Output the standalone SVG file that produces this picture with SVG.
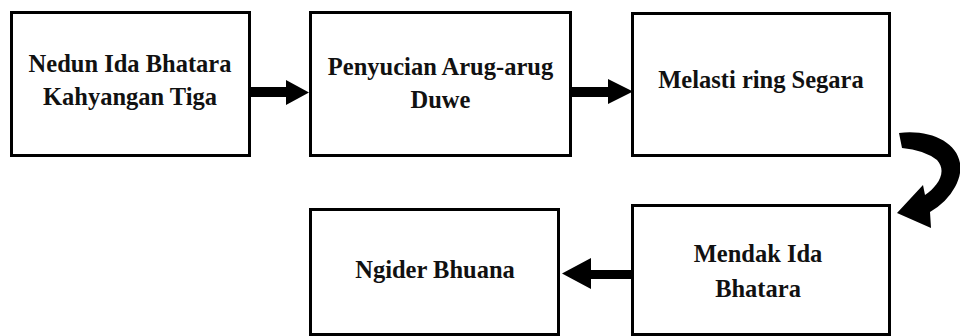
<svg xmlns="http://www.w3.org/2000/svg" width="960" height="336" viewBox="0 0 960 336">
<style>
.box{fill:#fff;stroke:#000;stroke-width:3}
text{font-family:'Liberation Serif','Times New Roman',serif;font-weight:700;font-size:24.5px;fill:#111;text-anchor:middle}
.ar{fill:#000}
</style>
<rect width="960" height="336" fill="#fff"/>
<g id="n1"><rect class="box" x="11.5" y="12.5" width="238" height="143"/><text x="130" y="72">Nedun Ida Bhatara</text><text x="130" y="105">Kahyangan Tiga</text></g>
<g id="n2"><rect class="box" x="310.5" y="12.5" width="260" height="143"/><text x="440.5" y="75">Penyucian Arug-arug</text><text x="440.5" y="108">Duwe</text></g>
<g id="n3"><rect class="box" x="632.5" y="13.5" width="257" height="142"/><text x="761" y="88">Melasti ring Segara</text></g>
<g id="n4"><rect class="box" x="632.5" y="205.5" width="257" height="129"/><text x="758" y="262">Mendak Ida</text><text x="758" y="297">Bhatara</text></g>
<g id="n5"><rect class="box" x="310.5" y="209.5" width="248" height="125"/><text x="435" y="278">Ngider Bhuana</text></g>
<g id="connectors">
<path class="ar" d="M251 87 H286 V80 L309 92.5 L286 105 V97 H251 Z"/>
<path class="ar" d="M572 87 H608 V79 L633 91.5 L608 104 V97 H572 Z"/>
<path class="ar" d="M634 270 H591 V258 L562 273.5 L591 289 V279 H634 Z"/>
<path class="ar" d="M899 133 C940 128 974 152 955 187 Q947 202 930 212 L931 228 L897 213 L923 185 L925 195 C937 187 948 172 937 160 Q924 150 902 148 Z"/>
</g>
</svg>
